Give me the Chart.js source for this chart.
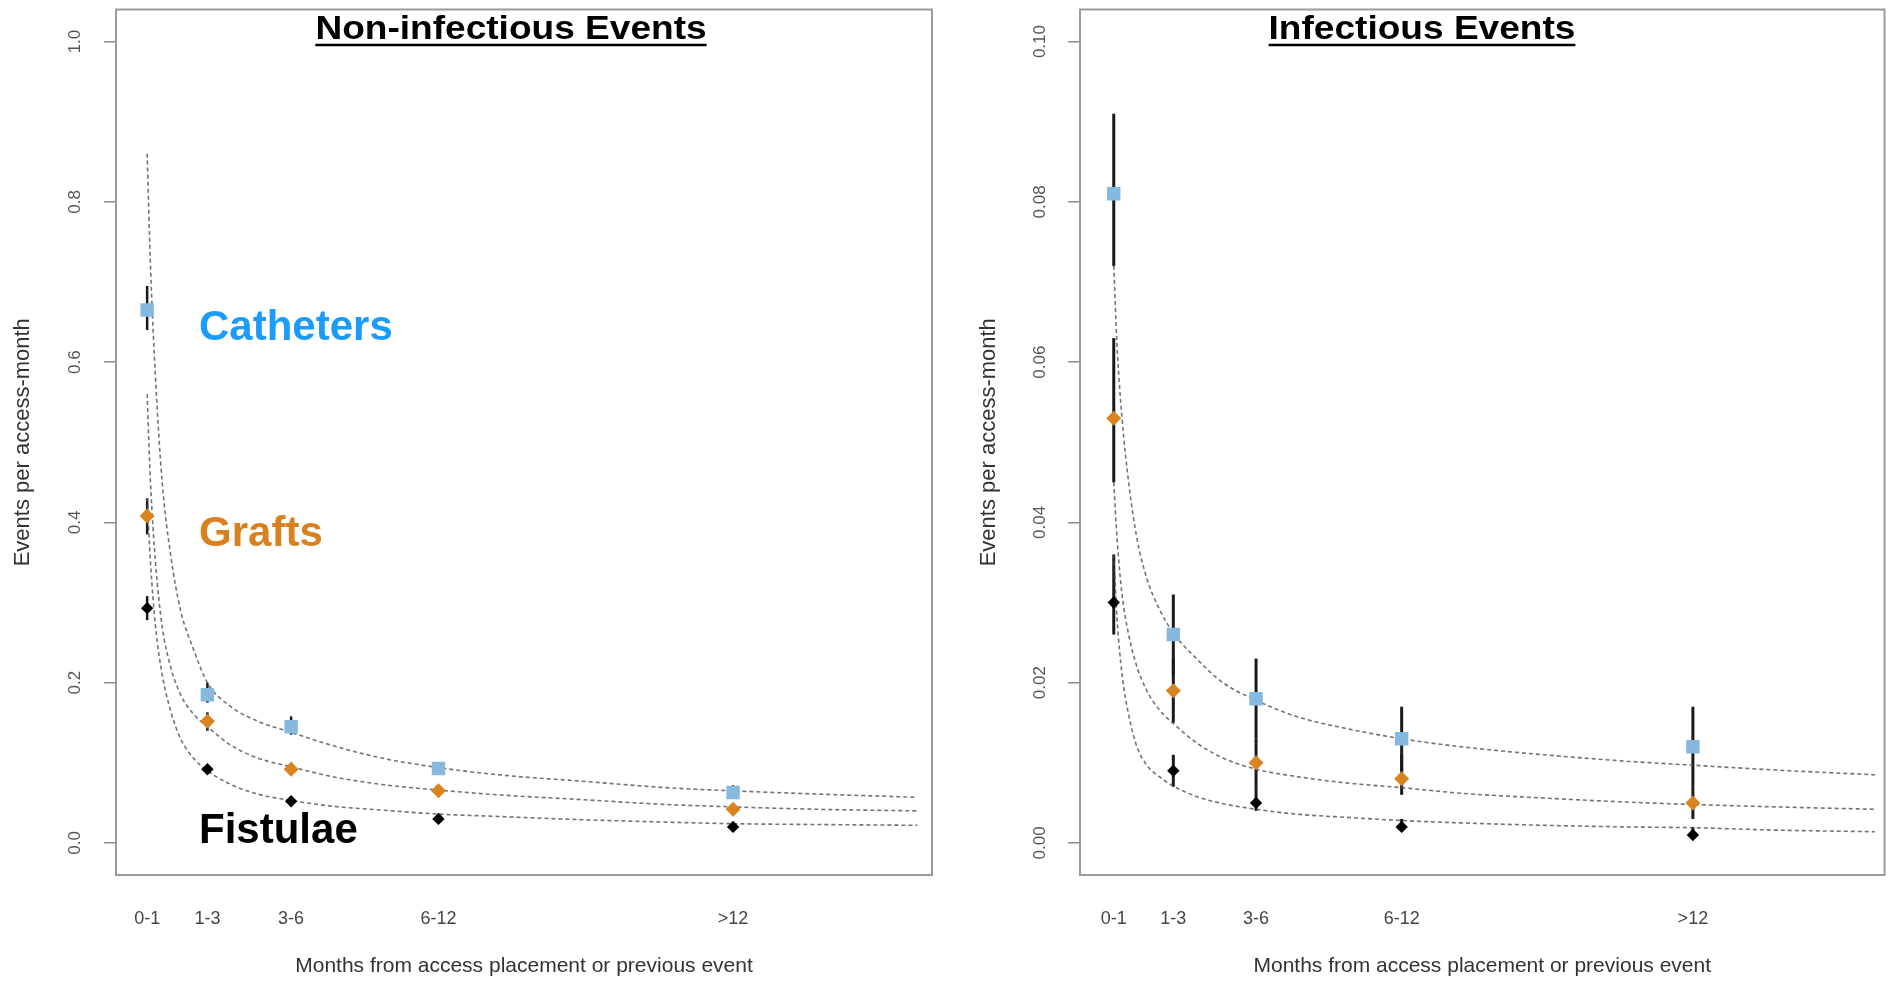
<!DOCTYPE html>
<html>
<head>
<meta charset="utf-8">
<script src="https://cdn.jsdelivr.net/npm/chart.js@4.4.1/dist/chart.umd.min.js"></script>
<style>
  html, body { margin: 0; padding: 0; background: #fff; }
  .panel { position: absolute; top: 0; width: 947px; height: 981px; }
  #leftPanel { left: 0; }
  #rightPanel { left: 947px; }
</style>
</head>
<body>
<div class="panel" id="leftPanel"><canvas id="nonInfChart"></canvas></div>
<div class="panel" id="rightPanel"><canvas id="infChart"></canvas></div>
<script>
// categories on the x axis and where they sit on the (uneven) month scale
const categories = ["0-1", "1-3", "3-6", "6-12", ">12"];
const catPos = [0.5, 2.3, 4.8, 9.2, 18];

const curveX = [0.5, 0.6, 0.75, 0.95, 1.2, 1.5, 1.9, 2.3, 3.0, 3.8, 4.8, 6.0, 7.5, 9.2, 11, 13.5, 16, 18, 20.5, 23.5];

// ---- Non-infectious events ----
const nonInfTicks = [0, 0.2, 0.4, 0.6, 0.8, 1.0];
const nonInfTickLabels = ["0.0", "0.2", "0.4", "0.6", "0.8", "1.0"];

const nonInfCath = [0.665, 0.185, 0.145, 0.093, 0.063];
const nonInfCathLo = [0.64, 0.175, 0.135, 0.087, 0.055];
const nonInfCathHi = [0.695, 0.2, 0.158, 0.1, 0.072];
const nonInfGraft = [0.408, 0.152, 0.092, 0.065, 0.042];
const nonInfGraftLo = [0.385, 0.14, 0.085, 0.06, 0.037];
const nonInfGraftHi = [0.43, 0.163, 0.1, 0.07, 0.048];
const nonInfFist = [0.293, 0.092, 0.052, 0.03, 0.02];
const nonInfFistLo = [0.278, 0.088, 0.048, 0.027, 0.017];
const nonInfFistHi = [0.308, 0.097, 0.056, 0.033, 0.023];

const nonInfCathCurve = [0.86, 0.72, 0.58, 0.45, 0.36, 0.29, 0.24, 0.2, 0.17, 0.152, 0.138, 0.122, 0.106, 0.094, 0.085, 0.077, 0.069, 0.065, 0.061, 0.057];
const nonInfGraftCurve = [0.56, 0.45, 0.35, 0.27, 0.22, 0.185, 0.16, 0.145, 0.122, 0.106, 0.095, 0.083, 0.073, 0.066, 0.06, 0.054, 0.048, 0.045, 0.042, 0.04];
const nonInfFistCurve = [0.43, 0.35, 0.27, 0.21, 0.165, 0.13, 0.105, 0.09, 0.073, 0.061, 0.053, 0.046, 0.041, 0.036, 0.033, 0.029, 0.026, 0.024, 0.023, 0.022];

// ---- Infectious events ----
const infTicks = [0, 0.02, 0.04, 0.06, 0.08, 0.1];
const infTickLabels = ["0.00", "0.02", "0.04", "0.06", "0.08", "0.10"];

const infCath = [0.081, 0.026, 0.018, 0.013, 0.012];
const infCathLo = [0.072, 0.021, 0.013, 0.009, 0.007];
const infCathHi = [0.091, 0.031, 0.023, 0.017, 0.017];
const infGraft = [0.053, 0.019, 0.01, 0.008, 0.005];
const infGraftLo = [0.045, 0.015, 0.007, 0.006, 0.003];
const infGraftHi = [0.063, 0.023, 0.013, 0.011, 0.007];
const infFist = [0.03, 0.009, 0.005, 0.002, 0.001];
const infFistLo = [0.026, 0.007, 0.004, 0.0015, 0.0005];
const infFistHi = [0.036, 0.011, 0.007, 0.003, 0.002];

const infCathCurve = [0.072, 0.062, 0.053, 0.045, 0.038, 0.033, 0.029, 0.0262, 0.023, 0.02, 0.0178, 0.0158, 0.0143, 0.013, 0.012, 0.011, 0.0102, 0.0097, 0.0091, 0.0085];
const infGraftCurve = [0.045, 0.038, 0.031, 0.026, 0.022, 0.019, 0.0165, 0.0149, 0.0125, 0.0106, 0.0092, 0.0083, 0.0075, 0.0069, 0.0062, 0.0056, 0.0051, 0.0048, 0.0045, 0.0042];
const infFistCurve = [0.036, 0.028, 0.021, 0.016, 0.012, 0.0097, 0.0082, 0.0071, 0.0058, 0.0049, 0.0042, 0.0036, 0.0032, 0.0028, 0.0025, 0.0022, 0.002, 0.0019, 0.0016, 0.0014];

const FONT = "'Liberation Sans', Arial, sans-serif";
Chart.defaults.font.family = FONT;

const CATH_COLOR = "#86b9df";
const GRAFT_COLOR = "#d8841f";
const FIST_COLOR = "#000000";

// box, error bars, rotated y labels, titles and series names
const panelDecor = {
  id: "panelDecor",
  beforeDatasetsDraw(chart, args, opts) {
    const { ctx, scales: { x, y } } = chart;
    ctx.save();
    ctx.strokeStyle = opts.barColor;
    ctx.lineWidth = opts.barWidth;
    opts.bars.forEach((b) => {
      b.lo.forEach((lo, i) => {
        const px = x.getPixelForValue(catPos[i]);
        ctx.beginPath();
        ctx.moveTo(px, y.getPixelForValue(lo));
        ctx.lineTo(px, y.getPixelForValue(b.hi[i]));
        ctx.stroke();
      });
    });
    ctx.restore();
  },
  afterDraw(chart, args, opts) {
    const { ctx, chartArea: a, scales: { x, y } } = chart;
    ctx.save();
    // plot frame
    ctx.strokeStyle = "#9a9a9a";
    ctx.lineWidth = 2;
    ctx.strokeRect(a.left, a.top, a.right - a.left, a.bottom - a.top);

    // y tick labels, rotated like R does
    ctx.fillStyle = "#555";
    ctx.font = "17px " + FONT;
    ctx.textAlign = "center";
    ctx.textBaseline = "middle";
    y.ticks.forEach((t, i) => {
      ctx.save();
      ctx.translate(opts.yLabelX, y.getPixelForValue(t.value));
      ctx.rotate(-Math.PI / 2);
      ctx.fillText(opts.yLabels[i], 0, 0);
      ctx.restore();
    });

    // underlined title inside the frame (glyphs a bit wide, as in the figure)
    ctx.fillStyle = "#000";
    ctx.font = "bold 34px " + FONT;
    ctx.textBaseline = "alphabetic";
    const w = ctx.measureText(opts.title).width * 1.09;
    ctx.save();
    ctx.translate(opts.titleX, 39);
    ctx.scale(1.09, 1);
    ctx.fillText(opts.title, 0, 0);
    ctx.restore();
    ctx.strokeStyle = "#000";
    ctx.lineWidth = 2.5;
    ctx.beginPath();
    ctx.moveTo(opts.titleX - w / 2, 45);
    ctx.lineTo(opts.titleX + w / 2, 45);
    ctx.stroke();

    // series names
    ctx.textAlign = "left";
    (opts.names || []).forEach((n) => {
      ctx.fillStyle = n.color;
      ctx.font = "bold 42px " + FONT;
      ctx.fillText(n.text, x.getPixelForValue(n.x), y.getPixelForValue(n.y));
    });
    ctx.restore();
  }
};

function curve(vals) {
  return curveX.map((t, i) => ({ x: t, y: vals[i] }));
}
function pts(vals) {
  return catPos.map((t, i) => ({ x: t, y: vals[i] }));
}
function curveSet(vals) {
  return {
    data: curve(vals),
    showLine: true,
    pointRadius: 0,
    borderColor: "rgba(80,80,80,0.8)",
    borderWidth: 1.6,
    borderDash: [4, 3],
    cubicInterpolationMode: "monotone",
    order: 2
  };
}
function pointSet(vals, style, color, r) {
  return {
    data: pts(vals),
    pointStyle: style,
    pointRadius: r,
    pointBackgroundColor: color,
    pointBorderWidth: 0,
    showLine: false,
    order: 1
  };
}

function makePanel(id, o) {
  return new Chart(document.getElementById(id), {
    type: "scatter",
    data: {
      datasets: [
        pointSet(o.cath, "rect", CATH_COLOR, 9.5),
        pointSet(o.graft, "rectRot", GRAFT_COLOR, 7.5),
        pointSet(o.fist, "rectRot", FIST_COLOR, 6.2),
        curveSet(o.cathCurve),
        curveSet(o.graftCurve),
        curveSet(o.fistCurve)
      ]
    },
    options: {
      responsive: true,
      maintainAspectRatio: false,
      animation: false,
      events: [],
      layout: { padding: { left: 0, right: o.padRight, top: 7, bottom: 0 } },
      plugins: {
        legend: { display: false },
        tooltip: { enabled: false },
        panelDecor: {
          bars: o.bars,
          barColor: "#1a1a1a",
          barWidth: o.barWidth,
          yLabels: o.yLabels,
          yLabelX: o.yLabelX,
          title: o.title,
          titleX: o.titleX,
          names: o.names
        }
      },
      scales: {
        x: {
          type: "linear",
          min: o.xMin,
          max: o.xMax,
          afterBuildTicks: (s) => { s.ticks = catPos.map((v) => ({ value: v })); },
          afterFit: (s) => { s.height = 106; },
          ticks: {
            autoSkip: false,
            maxRotation: 0,
            padding: 25,
            color: "#444",
            font: { size: 18 },
            callback: (v, i) => categories[i]
          },
          grid: { display: false },
          border: { display: false },
          title: {
            display: true,
            text: "Months from access placement or previous event",
            color: "#333",
            font: { size: 21 },
            padding: { top: 0, bottom: 2 }
          }
        },
        y: {
          min: o.yMin,
          max: o.yMax,
          afterBuildTicks: (s) => { s.ticks = o.yTicks.map((v) => ({ value: v })); },
          afterFit: (s) => { s.width = o.yWidth; },
          ticks: { display: false },
          grid: { drawOnChartArea: false, tickLength: 12, color: "#8c8c8c", lineWidth: 1.5 },
          border: { display: false },
          title: {
            display: true,
            text: "Events per access-month",
            color: "#333",
            font: { size: 22 },
            padding: { top: o.yTitlePad, bottom: 0 }
          }
        }
      }
    },
    plugins: [panelDecor]
  });
}

makePanel("nonInfChart", {
  cath: nonInfCath, graft: nonInfGraft, fist: nonInfFist,
  cathCurve: nonInfCathCurve, graftCurve: nonInfGraftCurve, fistCurve: nonInfFistCurve,
  bars: [
    { lo: nonInfCathLo, hi: nonInfCathHi },
    { lo: nonInfGraftLo, hi: nonInfGraftHi },
    { lo: nonInfFistLo, hi: nonInfFistHi }
  ],
  barWidth: 2.5,
  yTicks: nonInfTicks, yLabels: nonInfTickLabels,
  yMin: -0.04, yMax: 1.04,
  xMin: -0.43, xMax: 23.94,
  yWidth: 116, padRight: 15, yLabelX: 75, yTitlePad: 10,
  title: "Non-infectious Events", titleX: 511,
  names: [
    { text: "Catheters", color: "#1b9bfb", x: 2.05, y: 0.628 },
    { text: "Grafts", color: "#d9811f", x: 2.05, y: 0.371 },
    { text: "Fistulae", color: "#000", x: 2.05, y: 0.0 }
  ]
});

makePanel("infChart", {
  cath: infCath, graft: infGraft, fist: infFist,
  cathCurve: infCathCurve, graftCurve: infGraftCurve, fistCurve: infFistCurve,
  bars: [
    { lo: infCathLo, hi: infCathHi },
    { lo: infGraftLo, hi: infGraftHi },
    { lo: infFistLo, hi: infFistHi }
  ],
  barWidth: 3,
  yTicks: infTicks, yLabels: infTickLabels,
  yMin: -0.004, yMax: 0.104,
  xMin: -0.52, xMax: 23.79,
  yWidth: 133, padRight: 4, yLabelX: 93, yTitlePad: 29,
  title: "Infectious Events", titleX: 475,
  names: []
});
</script>
</body>
</html>
